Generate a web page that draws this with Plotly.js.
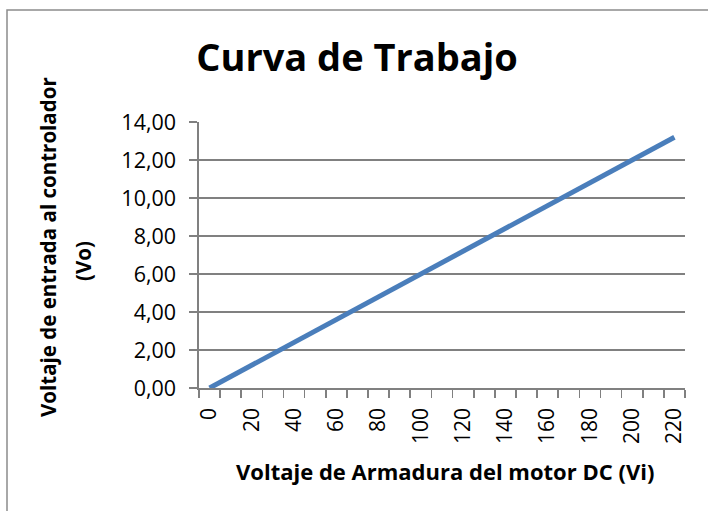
<!DOCTYPE html>
<html>
<head>
<meta charset="utf-8">
<script src="https://cdn.plot.ly/plotly-3.0.1.min.js"></script>
<style>html,body{margin:0;padding:0;background:#fff;}#chart{width:708px;height:511px;}</style>
</head>
<body>
<div id="chart"></div>
<script>
// Data
var vi = [0, 10, 20, 30, 40, 50, 60, 70, 80, 90, 100, 110, 120, 130, 140, 150, 160, 170, 180, 190, 200, 210, 220];
var vo = [0.00, 0.60, 1.20, 1.80, 2.40, 3.00, 3.60, 4.20, 4.80, 5.40, 6.00, 6.60, 7.20, 7.80, 8.40, 9.00, 9.60, 10.20, 10.80, 11.40, 12.00, 12.60, 13.20];
var xLabelVals = [0, 20, 40, 60, 80, 100, 120, 140, 160, 180, 200, 220];
var xLabelText = ['0', '20', '40', '60', '80', '100', '120', '140', '160', '180', '200', '220'];
var xBoundaryVals = [-5, 5, 15, 25, 35, 45, 55, 65, 75, 85, 95, 105, 115, 125, 135, 145, 155, 165, 175, 185, 195, 205, 215, 225];
var yTickVals = [0, 2, 4, 6, 8, 10, 12, 14];
var titleText = 'Curva de Trabajo';
var xTitleText = 'Voltaje de Armadura del motor DC (Vi)';
var yTitleLines = ['Voltaje de entrada al controlador', '(Vo)'];

var FONT = 'Open Sans, Liberation Sans, sans-serif';
var GRID = '#808080';

// plot area in pixels: x 199..685, y 122..388
function px2paperX(px) { return (px - 199) / 486; }
function px2paperY(py) { return (388 - py) / 266; }

var trace = {
  x: vi,
  y: vo,
  type: 'scatter',
  mode: 'lines',
  line: {color: '#4A7EBB', width: 5},
  hoverinfo: 'skip',
  showlegend: false
};

var layout = {
  width: 708,
  height: 511,
  paper_bgcolor: '#ffffff',
  plot_bgcolor: '#ffffff',
  separators: ',.',
  margin: {l: 199, r: 23, t: 122, b: 123, pad: 0},
  showlegend: false,
  title: {
    text: '<b>' + titleText + '</b>',
    font: {family: FONT, size: 38, color: '#000'},
    x: 357 / 708, xref: 'container', xanchor: 'center',
    y: 1 - 58 / 511, yref: 'container', yanchor: 'middle'
  },
  xaxis: {
    range: [-5, 225],
    tickmode: 'array',
    tickvals: xLabelVals,
    ticktext: xLabelText,
    ticks: 'outside',
    ticklen: 0,
    tickangle: -90,
    ticklabelstandoff: 10,
    tickfont: {family: FONT, size: 21, color: '#000'},
    showgrid: false,
    zeroline: false,
    showline: true,
    linecolor: GRID,
    linewidth: 1.6,
    minor: {
      tickmode: 'array',
      tickvals: xBoundaryVals,
      ticks: 'outside',
      ticklen: 8,
      tickcolor: GRID,
      tickwidth: 1.6,
      showgrid: false
    },
    fixedrange: true
  },
  yaxis: {
    range: [0, 14],
    tickmode: 'array',
    tickvals: yTickVals,
    tickformat: '.2f',
    ticks: 'outside',
    ticklen: 8,
    tickcolor: GRID,
    tickwidth: 1.6,
    ticklabelstandoff: 9,
    tickfont: {family: FONT, size: 21.5, color: '#000'},
    showgrid: true,
    gridcolor: GRID,
    gridwidth: 1.6,
    zeroline: false,
    showline: true,
    linecolor: GRID,
    linewidth: 1.6,
    fixedrange: true
  },
  annotations: [
    {
      text: '<b>' + xTitleText + '</b>',
      xref: 'paper', yref: 'paper',
      x: px2paperX(444.5), y: px2paperY(471),
      xanchor: 'center', yanchor: 'middle',
      showarrow: false,
      font: {family: FONT, size: 22, color: '#000'}
    },
    {
      text: '<b>' + yTitleLines[0] + '</b>',
      xref: 'paper', yref: 'paper',
      x: px2paperX(48), y: px2paperY(247),
      xanchor: 'center', yanchor: 'middle',
      textangle: -90,
      showarrow: false,
      font: {family: FONT, size: 20.5, color: '#000'}
    },
    {
      text: '<b>' + yTitleLines[1] + '</b>',
      xref: 'paper', yref: 'paper',
      x: px2paperX(83), y: px2paperY(261),
      xanchor: 'center', yanchor: 'middle',
      textangle: -90,
      showarrow: false,
      font: {family: FONT, size: 20.5, color: '#000'}
    }
  ],
  shapes: [{
    type: 'rect', xref: 'paper', yref: 'paper',
    x0: px2paperX(7), x1: px2paperX(740),
    y0: px2paperY(540), y1: px2paperY(10),
    line: {color: '#8c8c8c', width: 1.5},
    fillcolor: 'rgba(0,0,0,0)', layer: 'below'
  }]
};

Plotly.newPlot('chart', [trace], layout, {staticPlot: true, displayModeBar: false});
</script>
</body>
</html>
